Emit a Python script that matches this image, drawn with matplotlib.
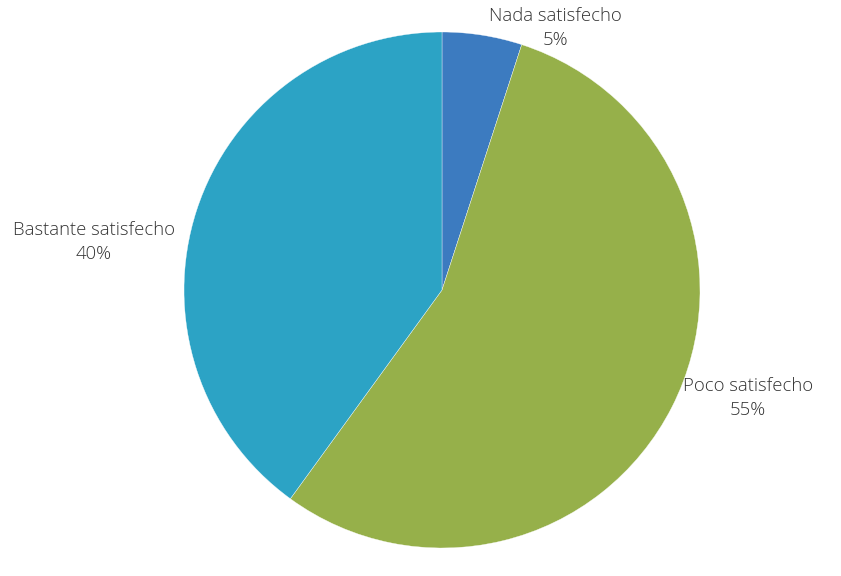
import matplotlib.pyplot as plt

# satisfaction shares
labels = ['Nada satisfecho', 'Poco satisfecho', 'Bastante satisfecho']
values = [5, 55, 40]
colors = ['#3C7BC0', '#96B04A', '#2CA3C5']

plt.rcParams['font.family'] = ['Open Sans', 'DejaVu Sans']

W, H = 841, 576
fig = plt.figure(figsize=(W / 100, H / 100), dpi=100)

# pie centred at (442, 290) px with radius 258 px
cx, cy, r = 442, 290, 258
ax = fig.add_axes([(cx - r) / W, (H - cy - r) / H, 2 * r / W, 2 * r / H])
ax.pie(values, colors=colors, startangle=90, counterclock=False,
       wedgeprops=dict(edgecolor='white', linewidth=0.25))
ax.set_xlim(-1, 1)
ax.set_ylim(-1, 1)
ax.set_aspect('equal')

# label positions in pixels (centre of the two-line text)
label_pos = [(555, 28), (748, 398), (94, 242)]
for lab, v, (px, py) in zip(labels, values, label_pos):
    fig.text(px / W, 1 - py / H, f'{lab}\n{v}%', ha='center', va='center',
             fontsize=13.3, color='#333333', linespacing=1.42,
             fontweight='light')

fig.savefig('out.png', dpi=100)
